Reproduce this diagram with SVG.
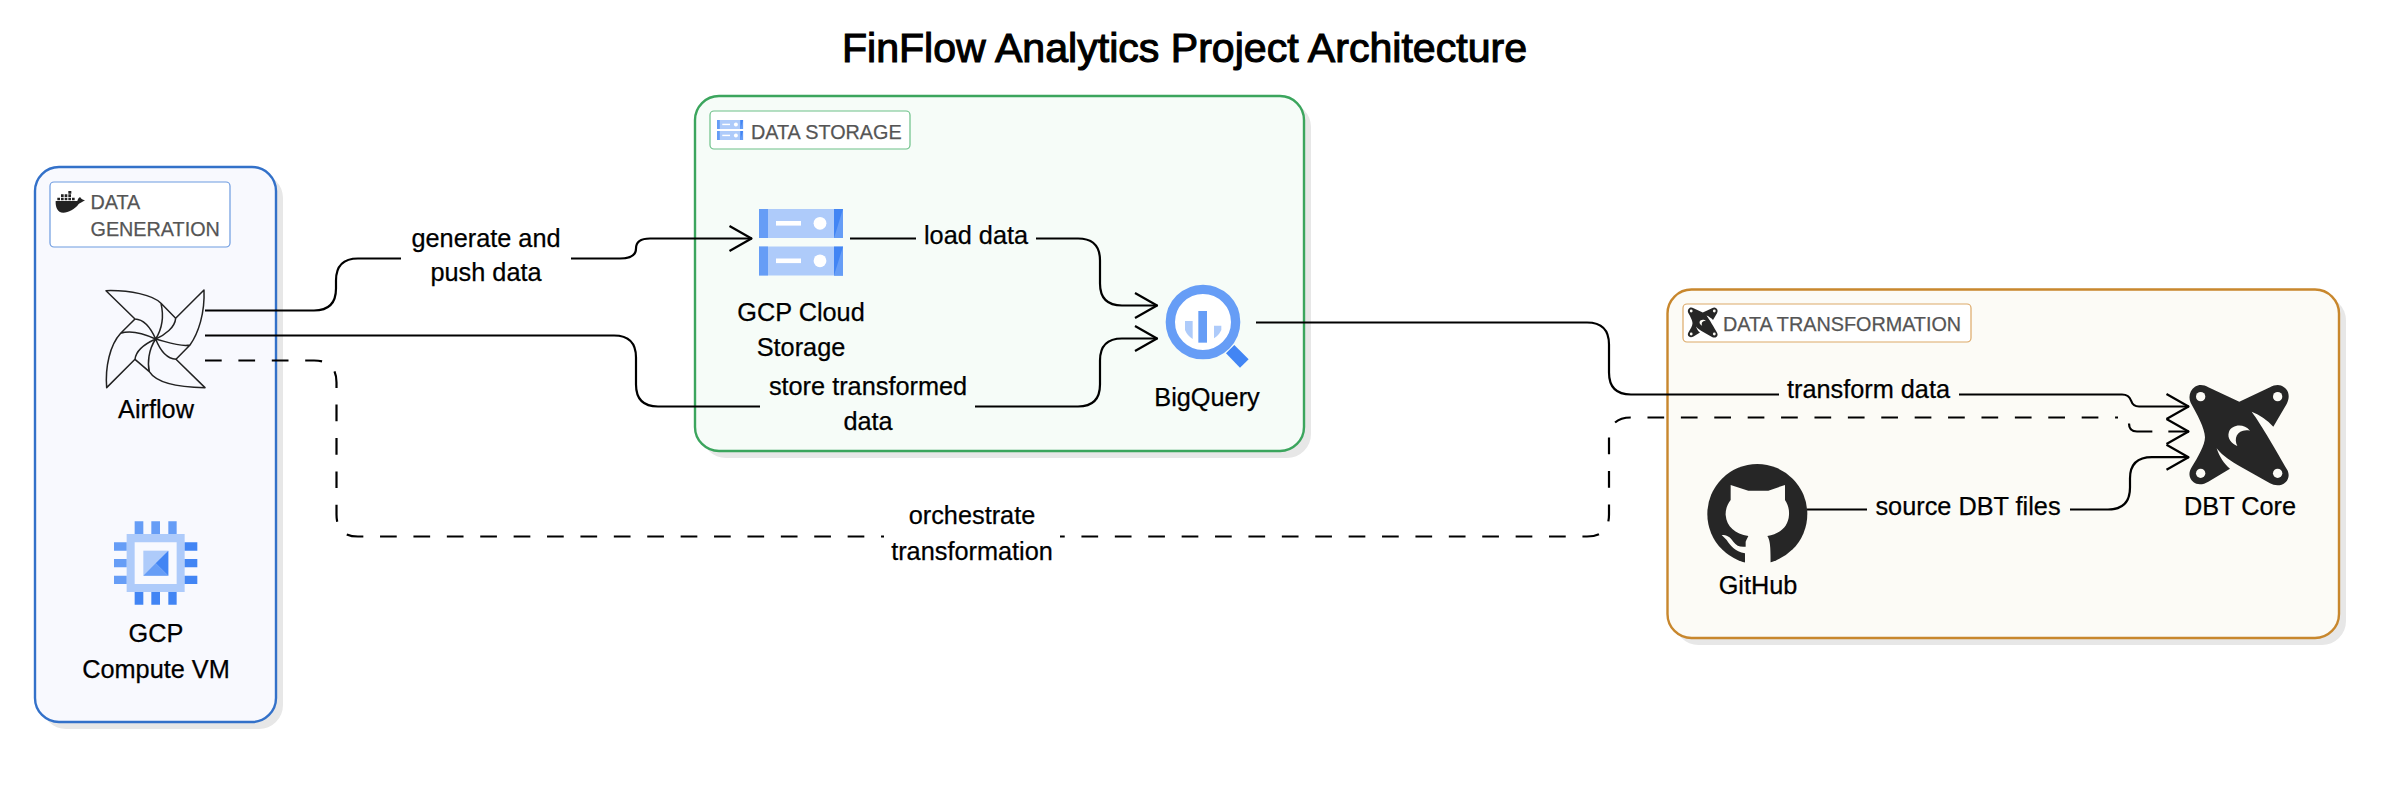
<svg xmlns="http://www.w3.org/2000/svg" width="2403" height="795" viewBox="0 0 2403 795">
<style>
text{font-family:"Liberation Sans",Arial,sans-serif;fill:#000;font-size:25.3px;text-anchor:middle;stroke:#000;stroke-width:.25}
.title{font-size:41.1px;stroke:#000;stroke-width:1.1}
.tag{font-size:19.8px;fill:#555;stroke:#555;text-anchor:start}
.shadow{fill:#e7e7e7}
.panel{stroke-width:2.4}
.badge{fill:#fff;stroke-width:1.2}
.edge{fill:none;stroke:#000;stroke-width:2.2}
.dash{stroke-dasharray:16.7 16.7}
.dash-end{stroke-dasharray:28 16 30}
.air{fill:none;stroke:#222;stroke-width:4.5;stroke-linejoin:round}
.c1{fill:#aecbfa}.c2{fill:#669df6}.c3{fill:#4285f4}
.dark{fill:#262626}
</style>
<defs>
<marker id="open" markerUnits="userSpaceOnUse" markerWidth="30" markerHeight="32" refX="25" refY="15" orient="auto">
<path d="M2.5 2.5 L24.5 15 L2.5 27.5" fill="none" stroke="#000" stroke-width="2.2" stroke-linejoin="round"/>
</marker>
<g id="dbtmark">
<path class="dark" d="M345 80 C358 72 372 74 385 82 L478 125 L570 82 C585 74 600 72 612 82 C628 92 630 112 620 132 L580 200 C562 180 540 165 515 155 C545 195 590 275 622 330 C632 350 622 368 605 374 C592 378 580 375 570 370 L478 318 C455 305 430 290 410 265 C418 290 432 312 450 326 L385 365 C370 374 352 376 340 366 C326 354 325 338 335 322 C355 290 375 255 375 232 C375 205 350 160 332 128 C324 110 330 90 345 80 Z"/>
<g fill="#fcfbf6">
<circle cx="362" cy="110" r="14"/><circle cx="593" cy="110" r="14"/><circle cx="362" cy="340" r="14"/><circle cx="593" cy="340" r="14"/>
<path d="M510 212 C490 188 455 195 447 215 C440 235 455 250 472 258 C460 235 472 205 510 212 Z"/>
</g>
</g>
<g id="wheel">
<path class="air" d="M48 62 L135 147 C165 148 185 180 197 207 C220 170 220 130 213 100 C190 75 120 60 48 62 Z M213 100 L257 145"/>
<path class="air" d="M342 60 L257 145 C255 172 225 195 197 207 C230 215 270 232 300 225 C325 190 345 130 342 60 Z M300 225 L258 268"/>
<path class="air" d="M345 353 L258 268 C228 266 208 235 197 207 C175 240 172 280 178 305 C200 340 270 352 345 353 Z M178 305 L135 268"/>
<path class="air" d="M50 353 L135 268 C138 240 168 220 197 207 C160 190 120 180 92 190 C60 225 45 290 50 353 Z M92 190 L135 147"/>
</g>
<g id="server">
<rect class="c1" x="0" y="0" width="84" height="29"/>
<rect class="c2" x="0" y="0" width="9" height="29"/>
<rect class="c3" x="75" y="0" width="9" height="29"/>
<path class="c2" d="M84 0 V29 H75 Z"/>
<rect x="17" y="12" width="25" height="4.6" fill="#fff"/>
<circle cx="61" cy="14.3" r="6.4" fill="#fff"/>
</g>
</defs>
<rect width="2403" height="795" fill="#fff"/>
<text class="title" x="1184.5" y="62">FinFlow Analytics Project Architecture</text>

<g id="panel-generation">
<rect class="shadow" x="42" y="174" width="241" height="555" rx="24"/>
<rect class="panel" x="35" y="167" width="241" height="555" rx="24" fill="#f8f9fe" stroke="#3371c9"/>
<rect class="badge" x="50" y="182" width="180" height="65" rx="4" stroke="#6d9be0"/>
<g fill="#222" transform="translate(0 140) scale(.3333)">
<path d="M167 183 H232 C234 175 238 171 241 172 C243 176 246 179 255 181 C246 186 240 190 236 192 C225 208 205 218 190 218 C172 218 166 200 167 183 Z"/>
<path d="M172 173h8v8h-8z M183 173h8v8h-8z M194 173h8v8h-8z M205 173h8v8h-8z M216 173h8v8h-8z M183 163h8v8h-8z M194 163h8v8h-8z M205 163h8v8h-8z M205 153h9v8h-9z"/>
</g>
<text class="tag" x="90.500" y="209">DATA</text>
<text class="tag" x="90.500" y="236">GENERATION</text>
</g>

<g id="panel-storage">
<rect class="shadow" x="702" y="103" width="609" height="355" rx="24"/>
<rect class="panel" x="695" y="96" width="609" height="355" rx="24" fill="#f6fcf8" stroke="#3ba55d"/>
<rect class="badge" x="710" y="111" width="200" height="38" rx="4" stroke="#6cc088"/>
<use href="#server" transform="translate(717 120) scale(.31 .31)"/>
<use href="#server" transform="translate(717 131) scale(.31 .31)"/>
<text class="tag" x="751" y="138.500">DATA STORAGE</text>
</g>

<g id="panel-transformation">
<rect class="shadow" x="1674.500" y="296.500" width="671.500" height="348.500" rx="24"/>
<rect class="panel" x="1667.500" y="289.500" width="671.500" height="348.500" rx="24" fill="#fcfbf6" stroke="#c8872d"/>
<rect class="badge" x="1683" y="304" width="288" height="38" rx="4" stroke="#dca968"/>
<use href="#dbtmark" transform="translate(1655 300) scale(.1)"/>
<text class="tag" x="1723" y="331">DATA TRANSFORMATION</text>
</g>

<g id="connectors" transform="translate(0 .5)">
<path class="edge" d="M205 310 H314 Q336 310 336 288 V280 Q336 258 358 258 H620 Q636 258 636 248 Q636 238 650 238 H752" marker-end="url(#open)"/>
<path class="edge" d="M850 238 H1078 Q1100 238 1100 260 V283 Q1100 305 1122 305 H1157.500" marker-end="url(#open)"/>
<path class="edge" d="M205 335 H614 Q636 335 636 357 V384 Q636 406 658 406 H1078 Q1100 406 1100 384 V360 Q1100 338 1122 338 H1157.500" marker-end="url(#open)"/>
<path class="edge dash" d="M205 360 H314 Q336.500 360 336.500 382 V514 Q336.500 536 358 536 H1587 Q1609 536 1609 514 V439 Q1609 417 1631 417 H2118"/>
<path class="edge dash-end" d="M2129 423 Q2129 431 2137 431 H2189" marker-end="url(#open)"/>
<path class="edge" d="M1256 322 H1587 Q1609 322 1609 344 V372 Q1609 394 1631 394 H2122 Q2129 394 2131 400 Q2133 406 2139 406 H2189" marker-end="url(#open)"/>
<path class="edge" d="M1807 509 H2108 Q2130 509 2130 487 V478 Q2130 456.700 2152 456.700 H2189" marker-end="url(#open)"/>
</g>
<g id="edge-labels">
<g id="label-generate"><rect x="401" y="226" width="170" height="64" fill="#fff"/><text x="486" y="247">generate and</text><text x="486" y="281">push data</text></g>
<g id="label-load"><rect x="916" y="222" width="120" height="32" fill="#f6fcf8"/><text x="976" y="244">load data</text></g>
<g id="label-store"><rect x="760" y="372" width="215" height="64" fill="#f6fcf8"/><text x="868" y="394.500">store transformed</text><text x="868" y="429.500">data</text></g>
<g id="label-orchestrate"><rect x="884" y="500" width="176" height="68" fill="#fff"/><text x="972" y="524">orchestrate</text><text x="972" y="560">transformation</text></g>
<g id="label-transform"><rect x="1779" y="378" width="180" height="30" fill="#fcfbf6"/><text x="1868.500" y="398">transform data</text></g>
<g id="label-source"><rect x="1867" y="492" width="203" height="32" fill="#fcfbf6"/><text x="1968" y="514.500">source DBT files</text></g>
</g>

<g id="airflow">
<use href="#wheel" transform="translate(90 270) scale(.3333)"/>
<text x="156" y="418">Airflow</text>
</g>

<g id="compute-vm">
<g transform="translate(90 510) scale(.3333)">
<path class="c1" d="M110 72 H284 V246 H110 Z M134 97 V222 H260 V97 Z" fill-rule="evenodd"/>
<path class="c2" d="M134 34h26v38h-26z M184 34h26v38h-26z M235 34h25v38h-25z M72 97h38v25h-38z M72 147h38v25h-38z M72 197h38v25h-38z"/>
<path class="c3" d="M134 246h26v38h-26z M184 246h26v38h-26z M235 246h25v38h-25z M284 97h38v25h-38z M284 147h38v25h-38z M284 197h38v25h-38z"/>
<rect class="c1" x="160" y="122" width="75" height="75"/>
<path class="c3" d="M235 122 L197 160 L235 197 Z"/>
<path class="c2" d="M160 197 L197 160 L235 197 Z"/>
</g>
<text x="156" y="642">GCP</text>
<text x="156" y="678">Compute VM</text>
</g>

<g id="cloud-storage">
<use href="#server" transform="translate(759 209)"/>
<use href="#server" transform="translate(759 246.500)"/>
<text x="801" y="321">GCP Cloud</text>
<text x="801" y="356">Storage</text>
</g>

<g id="bigquery">
<g transform="translate(1140 270) scale(.3333)">
<circle cx="189" cy="156" r="98" fill="#fff" stroke="#669df6" stroke-width="28"/>
<rect class="c2" x="175" y="123" width="26" height="95"/>
<path class="c1" d="M135 153 H158 V207 Q142 197 135 180 Z"/>
<path class="c1" d="M222 167 H244 V180 Q236 197 222 205 Z"/>
<path class="c3" d="M258 250 L283 225 L326 268 L300 293 Z"/>
</g>
<text x="1207" y="405.500">BigQuery</text>
</g>

<g id="github">
<g transform="translate(1680 450) scale(.3333)">
<circle class="dark" cx="232" cy="192" r="150"/>
<path fill="#fcfbf6" d="M152 105 L205 122 H265 L315 105 L315 150 C325 165 328 180 327 195 C325 230 300 252 262 258 C270 270 272 285 272 345 H195 L195 310 C165 305 150 285 140 270 L125 255 C140 255 150 260 160 275 C170 288 180 292 197 290 L197 275 C200 268 203 263 205 258 C165 252 140 230 137 195 C136 180 142 162 152 150 Z"/>
</g>
<text x="1758" y="593.500">GitHub</text>
</g>

<g id="dbt-core">
<use href="#dbtmark" transform="translate(2080 360) scale(.3333)"/>
<text x="2240" y="515">DBT Core</text>
</g>
</svg>
